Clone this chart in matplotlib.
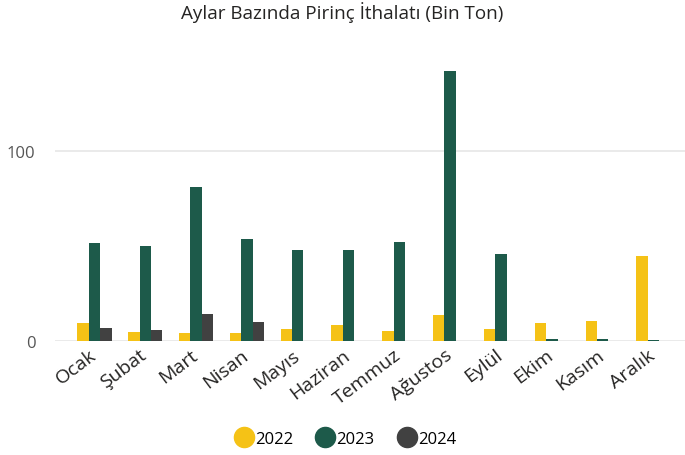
import matplotlib
matplotlib.use("Agg")
import matplotlib.pyplot as plt
import matplotlib.transforms as mtransforms
import numpy as np
from matplotlib.lines import Line2D

plt.rcParams["font.family"] = ["Open Sans", "DejaVu Sans"]

months = ["Ocak", "Şubat", "Mart", "Nisan", "Mayıs", "Haziran", "Temmuz",
          "Ağustos", "Eylül", "Ekim", "Kasım", "Aralık"]
y2022 = [9.5, 5.0, 4.3, 4.3, 6.7, 8.6, 5.5, 14.0, 6.4, 9.7, 10.9, 44.9]
y2023 = [51.7, 50.2, 80.9, 53.7, 47.7, 47.7, 51.9, 141.5, 45.8, 1.3, 1.3, 1.0]
y2024 = [6.9, 5.9, 14.2, 10.2, np.nan, np.nan, np.nan, np.nan, np.nan, np.nan, np.nan, np.nan]

YELLOW = "#F5C216"
GREEN = "#1D5A4A"
DARK = "#414141"
GRID = "#E6E6E6"

fig = plt.figure(figsize=(6.85, 4.56), dpi=100)
ax = fig.add_axes([0.080, 0.249, 0.920, 0.607])

x = np.arange(len(months))
w = 0.225
ax.bar(x - w, y2022, width=w, color=YELLOW, zorder=3)
ax.bar(x, y2023, width=w, color=GREEN, zorder=3)
ax.bar(x + w, y2024, width=w, color=DARK, zorder=3)

ax.set_xlim(-0.78, 11.62)
ax.set_ylim(0, 145)
ax.set_yticks([0, 100])
ax.grid(axis="y", color=GRID, linewidth=1.2, zorder=0)
ax.set_axisbelow(True)
for s in ax.spines.values():
    s.set_visible(False)
ax.tick_params(axis="both", length=0)
ax.tick_params(axis="y", labelsize=12, labelcolor="#555555", pad=14)

ax.set_xticks(x)
ax.set_xticklabels(months, rotation=37, ha="right", rotation_mode="anchor",
                   fontsize=14, color="#252423")
ax.tick_params(axis="x", pad=3)
shift = mtransforms.ScaledTranslation(-6 / 100, 0, fig.dpi_scale_trans)
for lbl in ax.get_xticklabels():
    lbl.set_transform(lbl.get_transform() + shift)

fig.text(0.5, 0.972, "Aylar Bazında Pirinç İthalatı (Bin Ton)", ha="center", va="center",
         fontsize=13.6, color="#252423")

handles = [Line2D([], [], marker="o", linestyle="", markersize=14.5, color=c)
           for c in (YELLOW, GREEN, DARK)]
fig.legend(handles, ["2022", "2023", "2024"], loc="center", bbox_to_anchor=(0.503, 0.035),
           ncol=3, frameon=False, fontsize=12, handletextpad=0.0, columnspacing=1.3,
           handlelength=1.3)

fig.savefig("out.png", facecolor="white")
